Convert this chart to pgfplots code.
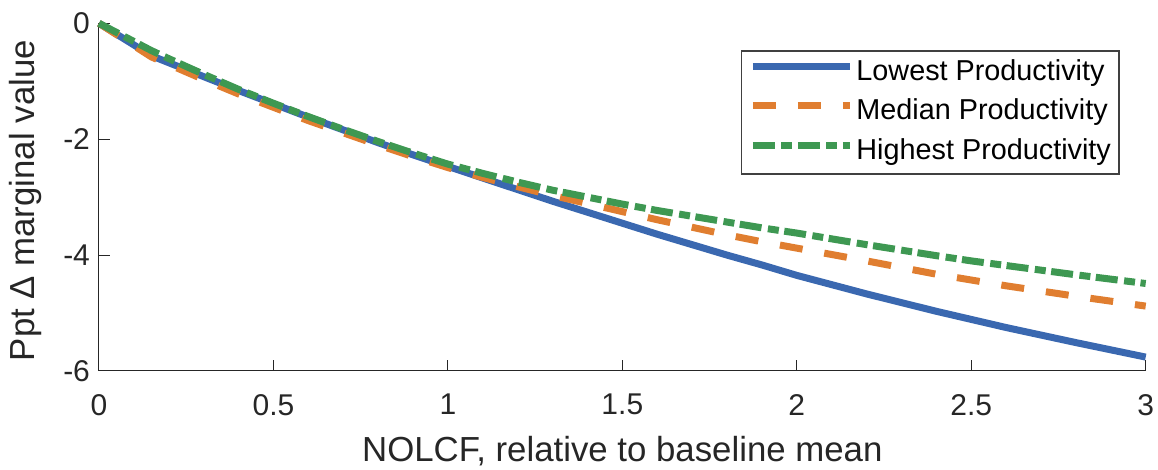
\documentclass[border=0pt]{standalone}
\usepackage{fontspec}
\setmainfont{Liberation Sans}
\usepackage{pgfplots}
\pgfplotsset{compat=1.18}

\definecolor{lowc}{RGB}{58,104,176}
\definecolor{medc}{RGB}{224,126,48}
\definecolor{highc}{RGB}{62,152,82}
\definecolor{axc}{RGB}{38,38,38}

\pgfplotstableread{
x     low    med    high
0     0      0      0
0.15  -0.56  -0.58  -0.47
0.2   -0.68  -0.71  -0.61
0.3   -0.92  -0.97  -0.88
0.4   -1.16  -1.22  -1.14
0.5   -1.39  -1.45  -1.38
0.6   -1.62  -1.68  -1.61
0.7   -1.84  -1.89  -1.83
0.8   -2.06  -2.10  -2.04
0.9   -2.27  -2.30  -2.24
1.0   -2.47  -2.49  -2.43
1.1   -2.67  -2.66  -2.59
1.2   -2.87  -2.82  -2.74
1.3   -3.07  -2.97  -2.88
1.4   -3.26  -3.11  -3.00
1.5   -3.45  -3.25  -3.12
1.6   -3.64  -3.39  -3.23
1.7   -3.82  -3.52  -3.33
1.8   -4.00  -3.65  -3.43
1.9   -4.17  -3.77  -3.53
2.0   -4.35  -3.88  -3.62
2.2   -4.67  -4.10  -3.82
2.4   -4.97  -4.33  -4.01
2.5   -5.11  -4.43  -4.10
2.6   -5.25  -4.53  -4.18
2.8   -5.51  -4.71  -4.34
3.0   -5.76  -4.88  -4.49
}\curves

\begin{document}
\begin{tikzpicture}
\begin{axis}[
  scale only axis,
  width=523.35pt, height=173.85pt,
  xmin=0, xmax=3, ymin=-6, ymax=0,
  xtick={0,0.5,...,3}, ytick={-6,-4,-2,0},
  axis lines*=left,
  axis line style={color=axc, line width=0.5pt},
  tick align=inside,
  major tick length=5.5pt,
  tick style={color=axc, line width=0.5pt},
  minor tick num=0,
  clip=false,
  /pgf/number format/assume math mode=true,
  ticklabel style={font=\fontsize{15}{18}\selectfont, color=axc},
  xticklabel style={yshift=-8pt},
  yticklabel style={xshift=-1pt},
  label style={font=\fontsize{17.4}{20}\selectfont, color=axc},
  xlabel={NOLCF, relative to baseline mean},
  ylabel={Ppt Δ marginal value},
  xlabel style={at={(axis description cs:0.5,0)}, anchor=base, yshift=-45.2pt},
  ylabel style={at={([xshift=-32.2pt]axis description cs:0,0.49)}, anchor=base},
  legend cell align=left,
  legend style={at={(axis description cs:0.975,0.922)}, anchor=north east,
    draw={rgb,255:red,64;green,64;blue,64}, line width=0.6pt,
    font=\fontsize{14.4}{17}\selectfont, inner sep=4pt, row sep=5.75pt,
    nodes={inner sep=0pt, text height=10.5pt, text depth=3.5pt}},
  legend image code/.code={\draw[#1] (0pt,3.5pt) -- (48.5pt,3.5pt);},
  every axis plot/.append style={line width=3.5pt, line cap=butt},
]
\addplot[color=lowc] table[x=x, y=low] {\curves};
\addlegendentry{\hspace{1.5pt}Lowest Productivity}
\addplot[color=medc, dash pattern=on 11.5pt off 11pt] table[x=x, y=med] {\curves};
\addlegendentry{\hspace{1.5pt}Median Productivity}
\addplot[color=highc, dash pattern=on 11pt off 3.25pt on 5.5pt off 2.75pt] table[x=x, y=high] {\curves};
\addlegendentry{\hspace{1.5pt}Highest Productivity}
\end{axis}
\pgfresetboundingbox
\path (-49.5pt,-49.5pt) rectangle (529.5pt,185.5pt);
\end{tikzpicture}
\end{document}
